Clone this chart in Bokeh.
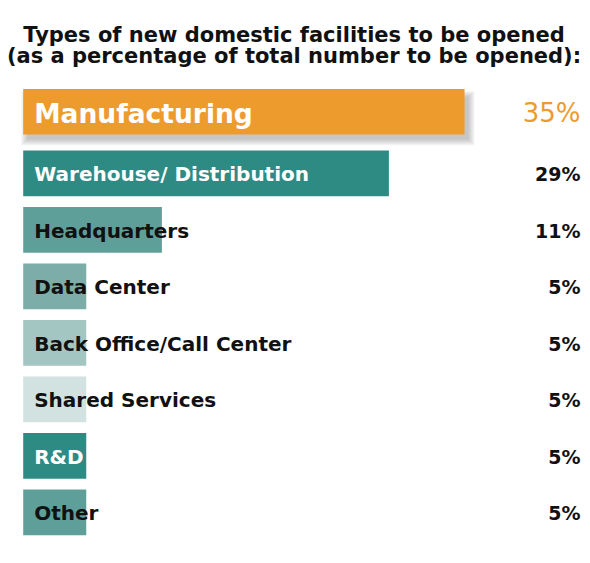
from bokeh.plotting import figure
from bokeh.models import ColumnDataSource, Range1d
from bokeh.core.properties import value
from bokeh.embed import file_html
from bokeh.resources import INLINE


categories = ["Manufacturing", "Warehouse/ Distribution", "Headquarters", "Data Center",
              "Back Office/Call Center", "Shared Services", "R&D", "Other"]
percent = [35, 29, 11, 5, 5, 5, 5, 5]
pct_labels = ["35%", "29%", "11%", "5%", "5%", "5%", "5%", "5%"]
title_lines = ["Types of new domestic facilities to be opened",
               "(as a percentage of total number to be opened):"]

bar_colors = ["#ee9b2e", "#2e8b84", "#5f9f99", "#7cada8", "#a4c6c3", "#d1e2e0", "#2e8b84", "#5f9f99"]
name_colors = ["white", "white", "#111111", "#111111", "#111111", "#111111", "white", "#111111"]
FONT = value("DejaVu Sans")

# pixel layout -> data ranges
W, H = 590, 563
PX_PER_PCT = 12.61
X0 = 22.7        # left edge of bars (px)
PITCH = 56.5     # row spacing (px)
ROW1_Y = 172.9   # centre of second row (px from top)
BAR_H = 45.6 / PITCH

x_start = -X0 / PX_PER_PCT
x_end = (W - X0) / PX_PER_PCT
y_top = 1 - ROW1_Y / PITCH
y_bottom = 1 + (H - ROW1_Y) / PITCH

rows = [float(i) for i in range(len(categories))]
rows[0] -= 5.2 / PITCH   # highlighted bar sits a bit higher

p = figure(width=W, height=H, output_backend="svg", toolbar_location=None,
           x_range=Range1d(x_start, x_end), y_range=Range1d(y_bottom, y_top),
           min_border=0)
p.axis.visible = False
p.grid.visible = False
p.outline_line_color = None
p.background_fill_color = "white"
p.border_fill_color = "white"

# soft shadow under the highlighted bar
px, py = 1 / PX_PER_PCT, 1 / PITCH
for k in range(7):
    p.quad(left=[4 * px - k * px], right=[percent[0] + 4 * px + k * px],
           top=[rows[0] - BAR_H / 2 + 8 * py - k * py],
           bottom=[rows[0] + BAR_H / 2 + 5 * py + k * py],
           fill_color="#555555", fill_alpha=0.05, line_color=None)

src = ColumnDataSource(data=dict(y=rows, pct=percent, name=categories, lbl=pct_labels,
                                 color=bar_colors, tcolor=name_colors))
p.hbar(y="y", left=0, right="pct", height=BAR_H, fill_color="color",
       line_color=None, source=src)

top = ColumnDataSource(data={k: v[:1] for k, v in src.data.items()})
rest = ColumnDataSource(data={k: v[1:] for k, v in src.data.items()})

p.text(x=0, y="y", text="name", source=top, text_color="tcolor", text_font=FONT,
       text_font_size="26.5px", text_font_style="bold", text_baseline="middle",
       x_offset=11, y_offset=2)
p.text(x=0, y="y", text="name", source=rest, text_color="tcolor", text_font=FONT,
       text_font_size="20px", text_font_style="bold", text_baseline="middle",
       x_offset=11, y_offset=1)

lbl_x = x_end - 10 * px
p.text(x=lbl_x, y="y", text="lbl", source=top, text_color="#ee9b2e", text_font=FONT,
       text_font_size="26px", text_align="right", text_baseline="middle", y_offset=1)
p.text(x=lbl_x, y="y", text="lbl", source=rest, text_color="#111111", text_font=FONT,
       text_font_size="19px", text_font_style="bold", text_align="right",
       text_baseline="middle", y_offset=1)

title_y = [1 + (34.3 - ROW1_Y) / PITCH, 1 + (55.0 - ROW1_Y) / PITCH]
title_x = (293.5 - X0) / PX_PER_PCT
p.text(x=title_x, y=title_y, text=title_lines, text_color="#111111", text_font=FONT,
       text_font_size="21px", text_font_style="bold", text_align="center",
       text_baseline="alphabetic")

open("out.html", "w").write(file_html(p, INLINE))
